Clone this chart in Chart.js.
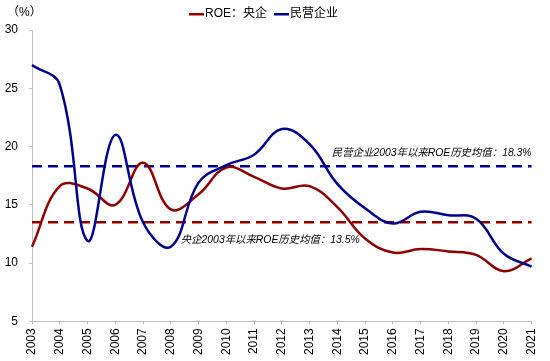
<!DOCTYPE html>
<html>
<head>
<meta charset="utf-8">
<script src="https://cdn.jsdelivr.net/npm/chart.js@4"></script>
<style>
  html, body { margin: 0; padding: 0; background: #fff; }
  #wrap { width: 550px; height: 361px; }
</style>
</head>
<body>
<div id="wrap"><canvas id="roe"></canvas></div>
<script>
const years = ['2003','2004','2005','2006','2007','2008','2009','2010','2011','2012',
               '2013','2014','2015','2016','2017','2018','2019','2020','2021'];
const soeRoe = [11.4, 16.6, 16.4, 15.0, 18.6, 14.6, 15.9, 18.2, 17.4, 16.4,
                16.6, 14.8, 12.1, 10.9, 11.2, 11.0, 10.7, 9.3, 10.4];
const privateRoe = [27.0, 25.3, 11.9, 21.0, 13.5, 11.4, 16.9, 18.4, 19.3, 21.5,
                    20.2, 16.8, 14.7, 13.4, 14.4, 14.1, 13.8, 10.8, 9.7];
const soeAvg = 13.5;
const privateAvg = 18.3;
const yTicks = [5, 10, 15, 20, 25, 30];

const RED = '#8E0000';
const BLUE = '#00008E';
const FONT = 'Liberation Sans, Arial, "Noto Sans CJK SC", sans-serif';

// extra text: unit, legend and the two average notes
const notes = {
  id: 'notes',
  afterDraw(chart) {
    const ctx = chart.ctx;
    const x = chart.scales.x, y = chart.scales.y;
    const area = chart.chartArea;
    ctx.save();
    ctx.fillStyle = '#000';
    ctx.textBaseline = 'middle';
    ctx.font = '12px ' + FONT;
    ctx.textAlign = 'left';
    ctx.fillText('（%）', 7, 13);

    // legend
    const items = [['ROE：央企', RED, 189], ['民营企业', BLUE, 274]];
    items.forEach(function(it) {
      ctx.fillStyle = it[1];
      ctx.fillRect(it[2], 13, 15, 2.5);
      ctx.fillStyle = '#000';
      ctx.fillText(it[0], it[2] + 16, 14);
    });

    ctx.font = 'italic 10.4px ' + FONT;
    ctx.textAlign = 'right';
    ctx.fillText('民营企业2003年以来ROE历史均值：' + privateAvg + '%', area.right, y.getPixelForValue(privateAvg) - 13);
    ctx.textAlign = 'left';
    ctx.fillText('央企2003年以来ROE历史均值：' + soeAvg + '%', x.getPixelForValue(5) + 10, y.getPixelForValue(soeAvg) + 18);
    ctx.restore();
  }
};

const data = {
  labels: years,
  datasets: [
    {
      label: '民营企业',
      data: privateRoe,
      borderColor: BLUE,
      backgroundColor: BLUE,
      borderWidth: 2.5,
      pointRadius: 0,
      tension: 0.4,
      order: 0
    },
    {
      label: 'ROE：央企',
      data: soeRoe,
      borderColor: RED,
      backgroundColor: RED,
      borderWidth: 2.5,
      pointRadius: 0,
      tension: 0.4,
      order: 1
    },
    {
      label: 'private avg',
      data: years.map(function() { return privateAvg; }),
      borderColor: BLUE,
      borderWidth: 2.5,
      borderDash: [10, 6],
      pointRadius: 0,
      order: 2
    },
    {
      label: 'soe avg',
      data: years.map(function() { return soeAvg; }),
      borderColor: RED,
      borderWidth: 2.5,
      borderDash: [10, 6],
      pointRadius: 0,
      order: 3
    }
  ]
};

const config = {
  type: 'line',
  data: data,
  options: {
    responsive: true,
    maintainAspectRatio: false,
    animation: false,
    layout: { padding: { top: 30, right: 12, bottom: 2, left: 0 } },
    plugins: {
      legend: { display: false },
      tooltip: { enabled: false }
    },
    scales: {
      x: {
        offset: false,
        grid: { drawOnChartArea: false, color: '#BFBFBF', tickLength: 3 },
        border: { color: '#BFBFBF' },
        ticks: {
          minRotation: 90, maxRotation: 90, padding: 4,
          color: '#000', font: { size: 12, family: FONT }
        }
      },
      y: {
        min: 5, max: 30,
        afterFit: function(s) { s.width = 32; },
        afterBuildTicks: function(s) { s.ticks = yTicks.map(function(v) { return { value: v }; }); },
        grid: { drawOnChartArea: false, color: '#BFBFBF', tickLength: 3 },
        border: { color: '#BFBFBF' },
        ticks: { padding: 11, color: '#000', font: { size: 12, family: FONT } }
      }
    }
  },
  plugins: [notes]
};

new Chart(document.getElementById('roe'), config);
</script>
</body>
</html>
